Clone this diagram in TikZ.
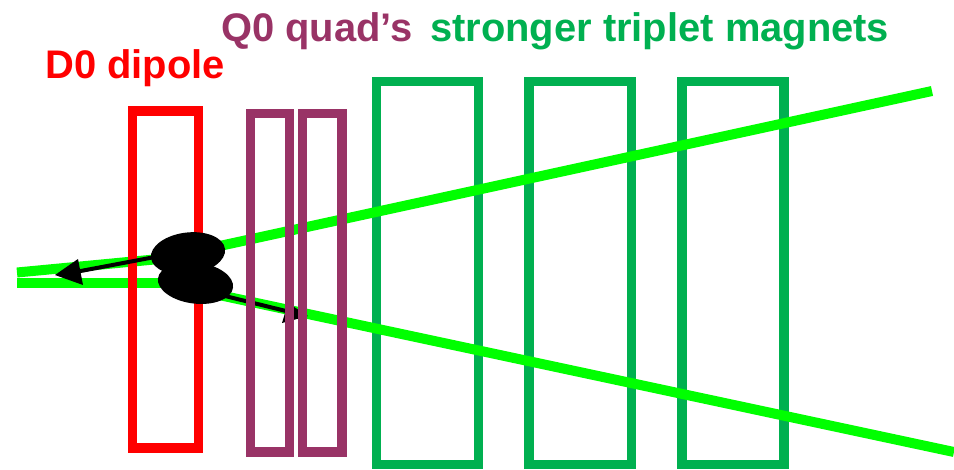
\documentclass[tikz,border=0pt]{standalone}
\usepackage{fontspec}
\setmainfont{Liberation Sans}
\definecolor{dred}{RGB}{255,0,0}
\definecolor{qpurple}{RGB}{153,51,102}
\definecolor{tgreen}{RGB}{0,176,80}
\definecolor{beam}{RGB}{0,255,0}
\tikzset{
  magnet/.style={line width=9.2pt,fill=none},
  beamline/.style={draw=beam,line width=10pt},
  lab/.style={font=\bfseries\fontsize{39.9}{40}\selectfont,inner sep=0pt,anchor=base west},
  kick/.style={draw=black,line width=4pt}
}
\begin{document}
\begin{tikzpicture}[x=1pt,y=-1pt]
\useasboundingbox (0,0) rectangle (954,469);
\draw[magnet,draw=tgreen] (376.5,81.7) rectangle (478.5,464.5);
\draw[magnet,draw=tgreen] (529,81.7) rectangle (631.5,464.5);
\draw[magnet,draw=tgreen] (682,81.7) rectangle (784,464.5);
\coordinate (a1) at (17,272.5);
\coordinate (a2) at (170,258);
\coordinate (a4) at (215,247);
\coordinate (a3) at (932,91);
\coordinate (b1) at (17,282.5);
\coordinate (b4) at (170,282.5);
\coordinate (b2) at (205,292);
\coordinate (b3) at (954,452);
\draw[beamline] (a4) -- (a3);
\draw[beamline] (b2) -- (b3);
\draw[beamline] (a1) -- (a2);
\draw[beamline] (b1) -- (b4);
\draw[magnet,draw=dred] (132.5,111) rectangle (198.5,448);
\coordinate (k0) at (155,257);
\coordinate (k1) at (78,271.5);
\coordinate (k2) at (225,296);
\coordinate (k3) at (290,312);
\draw[kick] (k0) -- (k1);
\draw[kick] (k2) -- (k3);
\fill[black] (55,275) -- (78,259) -- (83,285) -- cycle;
\fill[black] (308,316) -- (282,323) -- (288,303) -- cycle;
\draw[magnet,draw=qpurple] (250.5,113.5) rectangle (289.5,452);
\draw[magnet,draw=qpurple] (302.5,113.5) rectangle (342,452);
\fill[black,rotate around={7:(188,253.5)}] (188,253.5) ellipse [x radius=37.3,y radius=21];
\fill[black,rotate around={-7:(195.5,283)}] (195.5,283) ellipse [x radius=37.8,y radius=20.6];
\node[lab,text=dred] (d0) at (45,78) {D0 dipole};
\node[lab,text=qpurple] (q0) at (221,41) {Q0 quad’s};
\node[lab,text=tgreen] (st) at (430,41) {stronger triplet magnets};
\end{tikzpicture}
\end{document}
